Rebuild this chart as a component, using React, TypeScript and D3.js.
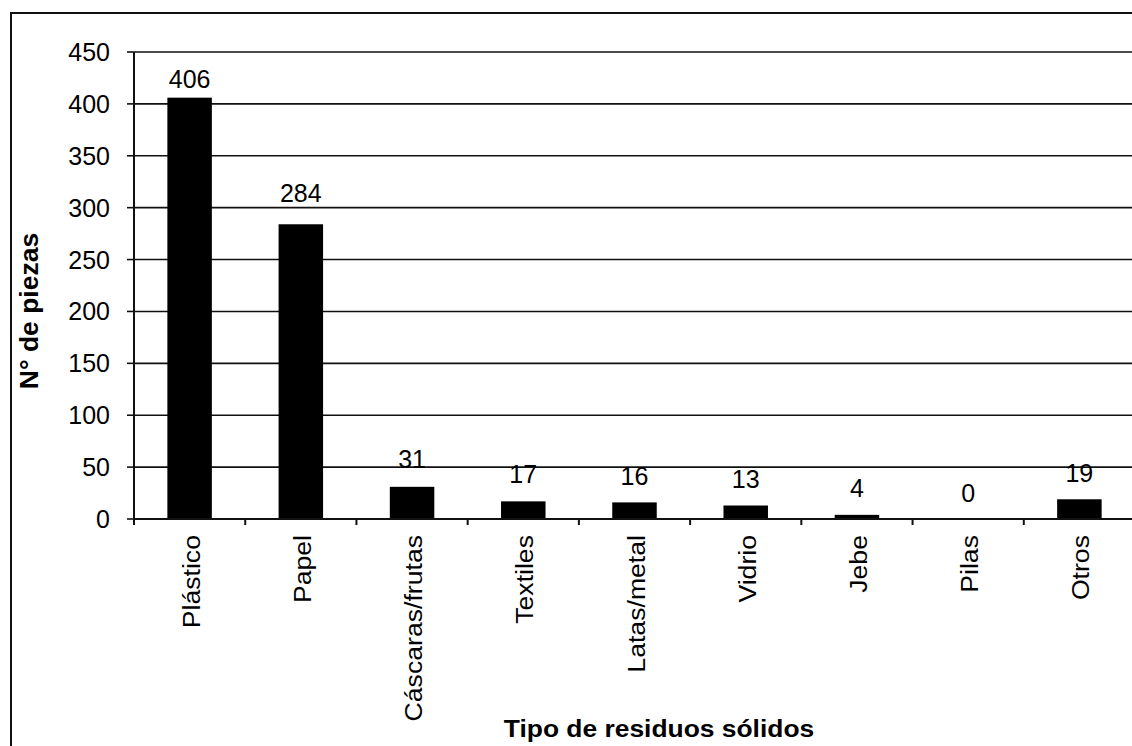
import React from "react";
import * as d3 from "d3";

const categories = ["Plástico", "Papel", "Cáscaras/frutas", "Textiles", "Latas/metal", "Vidrio", "Jebe", "Pilas", "Otros"];
const values = [406, 284, 31, 17, 16, 13, 4, 0, 19];
const yTicks = [0, 50, 100, 150, 200, 250, 300, 350, 400, 450];
// label gap above each bar (styling only)
const labelGap = [10, 22, 19, 18, 17, 18, 18, 17, 17];

const W = 1132, H = 746;
const left = 134, right = 1135, top = 52, bottom = 519;
const font = "'Liberation Sans', Arial, sans-serif";

export default function App() {
  const x = d3.scaleBand<string>().domain(categories).range([left, right]).paddingInner(0).paddingOuter(0);
  const y = d3.scaleLinear().domain([0, 450]).range([bottom, top]);
  const bw = x.bandwidth() * 0.4;
  const ticksX = categories.map((c) => x(c) as number).concat([right]);
  return (
    <svg width={W} height={H} style={{ position: "absolute", left: 0, top: 0, background: "#fff" }}>
      <rect x={0} y={0} width={W} height={H} fill="#fff" />
      <path d={`M11,${H + 2} V13 H${W + 2}`} fill="none" stroke="#111" strokeWidth={2} />
      {yTicks.map((t) => (
        <g key={t}>
          {t > 0 && <line x1={left} x2={W} y1={y(t)} y2={y(t)} stroke="#111" strokeWidth={1.6} />}
          <line x1={left - 7} x2={left} y1={y(t)} y2={y(t)} stroke="#111" strokeWidth={1.6} />
          <text x={110} y={y(t)} dy="0.36em" textAnchor="end" fontFamily={font} fontSize={25} fill="#000">{t}</text>
        </g>
      ))}
      {categories.map((c, i) => {
        const cx = (x(c) as number) + x.bandwidth() / 2;
        return (
          <g key={c}>
            <rect x={cx - bw / 2} y={y(values[i])} width={bw} height={bottom - y(values[i])} fill="#000" />
            <text x={cx} y={y(values[i]) - labelGap[i]} textAnchor="middle" fontFamily={font} fontSize={25} fill="#000">{values[i]}</text>
            <text transform={`translate(${cx + 10},${bottom + 16}) rotate(-90) scale(1.11,1)`} textAnchor="end" fontFamily={font} fontSize={24} fill="#000">{c}</text>
          </g>
        );
      })}
      <line x1={left} x2={left} y1={top} y2={bottom + 6} stroke="#111" strokeWidth={2} />
      <line x1={left} x2={W} y1={bottom} y2={bottom} stroke="#111" strokeWidth={2} />
      {ticksX.map((tx, i) => (
        <line key={i} x1={tx} x2={tx} y1={bottom} y2={bottom + 6} stroke="#111" strokeWidth={2} />
      ))}
      <text transform={`translate(38,311) rotate(-90) scale(1.06,1)`} textAnchor="middle" fontFamily={font} fontWeight="bold" fontSize={25} fill="#000">N° de piezas</text>
      <text transform={`translate(659,737) scale(1.1,1)`} textAnchor="middle" fontFamily={font} fontWeight="bold" fontSize={24} fill="#000">Tipo de residuos sólidos</text>
    </svg>
  );
}
